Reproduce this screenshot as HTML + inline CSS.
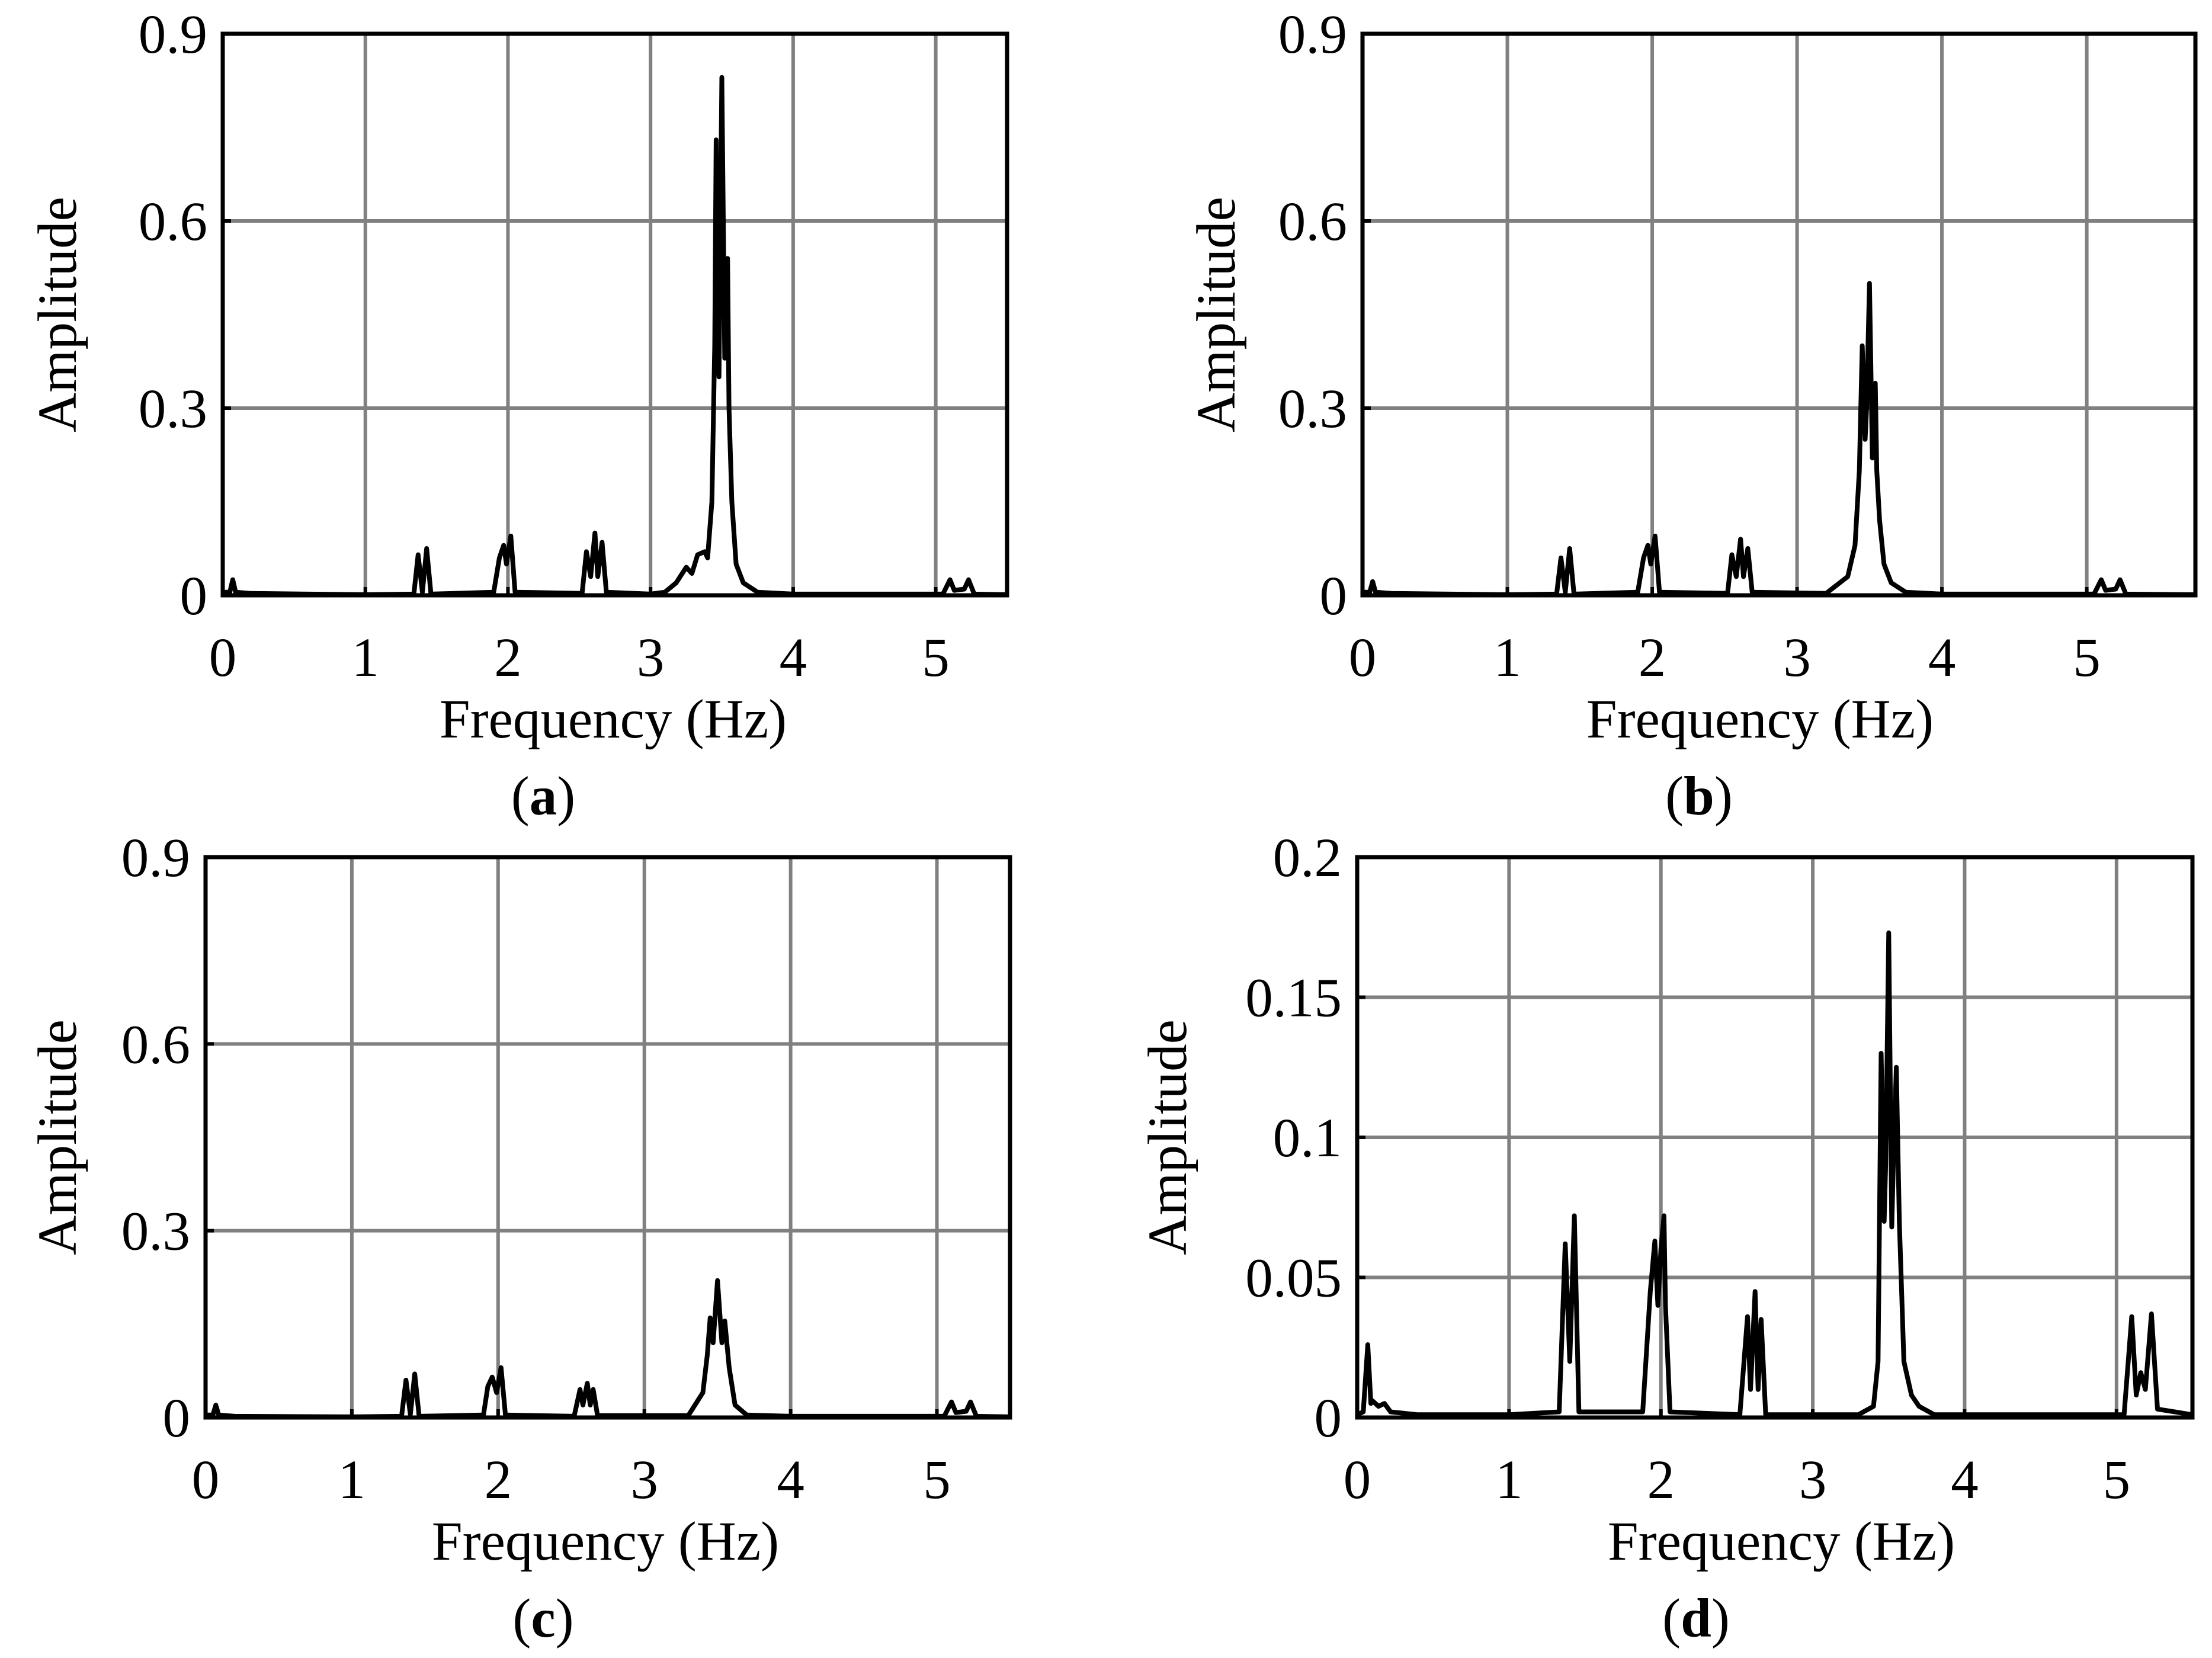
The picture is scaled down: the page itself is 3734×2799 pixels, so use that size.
<!DOCTYPE html>
<html><head><meta charset="utf-8"><style>
html,body{margin:0;padding:0;background:#fff;}
svg{display:block;font-family:"Liberation Serif",serif;}
</style></head><body>
<svg id="fig" width="3734" height="2799" viewBox="0 0 3734 2799" xmlns="http://www.w3.org/2000/svg"></svg>
<script>
// Chart (a)
const freqA=[0,0.05,0.07,0.09,0.2,1.0,1.34,1.37,1.40,1.43,1.46,1.9,1.94,1.97,1.99,2.02,2.05,2.52,2.55,2.58,2.61,2.63,2.66,2.69,3.0,3.1,3.18,3.25,3.29,3.33,3.38,3.40,3.43,3.45,3.46,3.48,3.50,3.52,3.54,3.55,3.57,3.6,3.65,3.75,4.0,5.05,5.1,5.13,5.2,5.23,5.27,5.5];
const ampA=[0.005,0.005,0.025,0.005,0.003,0.001,0.002,0.065,0.005,0.075,0.002,0.005,0.06,0.08,0.05,0.095,0.005,0.003,0.07,0.03,0.1,0.03,0.085,0.005,0.002,0.005,0.02,0.045,0.035,0.065,0.07,0.06,0.15,0.4,0.73,0.35,0.83,0.38,0.54,0.30,0.15,0.05,0.02,0.005,0.002,0.002,0.025,0.008,0.01,0.025,0.002,0.001];
// Chart (b)
const freqB=[0,0.05,0.07,0.09,0.2,1.0,1.34,1.37,1.40,1.43,1.46,1.9,1.94,1.97,1.99,2.02,2.05,2.52,2.55,2.58,2.61,2.63,2.66,2.69,3.2,3.35,3.40,3.43,3.45,3.47,3.48,3.50,3.52,3.54,3.55,3.57,3.6,3.65,3.75,4.0,5.05,5.1,5.13,5.2,5.23,5.27,5.75];
const ampB=[0.005,0.005,0.022,0.005,0.003,0.001,0.002,0.06,0.005,0.075,0.002,0.005,0.06,0.08,0.05,0.095,0.005,0.003,0.065,0.03,0.09,0.03,0.075,0.005,0.003,0.03,0.08,0.2,0.40,0.25,0.30,0.50,0.22,0.34,0.20,0.12,0.05,0.02,0.005,0.002,0.002,0.025,0.008,0.01,0.025,0.002,0.001];
// Chart (c)
const freqC=[0,0.05,0.07,0.09,0.2,1.0,1.34,1.37,1.40,1.43,1.46,1.9,1.93,1.96,1.99,2.02,2.05,2.52,2.56,2.58,2.61,2.63,2.65,2.68,3.3,3.4,3.43,3.45,3.47,3.50,3.53,3.55,3.58,3.62,3.7,4.0,5.05,5.1,5.13,5.2,5.23,5.27,5.5];
const ampC=[0.004,0.004,0.02,0.004,0.002,0.001,0.002,0.06,0.005,0.07,0.002,0.004,0.05,0.065,0.04,0.08,0.004,0.002,0.045,0.02,0.055,0.02,0.045,0.003,0.003,0.04,0.1,0.16,0.12,0.22,0.12,0.155,0.08,0.02,0.004,0.002,0.002,0.025,0.008,0.01,0.025,0.002,0.001];
// Chart (d)
const freqD=[0,0.04,0.07,0.09,0.1,0.14,0.18,0.22,0.4,1.0,1.33,1.37,1.40,1.43,1.46,1.88,1.93,1.96,1.98,2.0,2.02,2.03,2.06,2.52,2.57,2.59,2.62,2.64,2.66,2.69,3.3,3.4,3.43,3.45,3.47,3.48,3.50,3.52,3.53,3.55,3.57,3.6,3.65,3.7,3.8,4.0,5.05,5.1,5.13,5.16,5.19,5.23,5.27,5.5];
const ampD=[0.001,0.002,0.026,0.005,0.006,0.004,0.005,0.002,0.001,0.001,0.002,0.062,0.02,0.072,0.002,0.002,0.045,0.063,0.04,0.06,0.072,0.04,0.002,0.001,0.036,0.01,0.045,0.01,0.035,0.001,0.001,0.004,0.02,0.13,0.07,0.09,0.173,0.068,0.09,0.125,0.07,0.02,0.008,0.004,0.001,0.001,0.001,0.036,0.008,0.016,0.01,0.037,0.003,0.001];
const yTicksABC=["0","0.3","0.6","0.9"];
const yValsABC=[0,0.3,0.6,0.9];
const yTicksD=["0","0.05","0.1","0.15","0.2"];
const yValsD=[0,0.05,0.1,0.15,0.2];
const xTicks=["0","1","2","3","4","5"];
const xVals=[0,1,2,3,4,5];

const NS="http://www.w3.org/2000/svg";
const svg=document.getElementById('fig');
function mk(tag,attrs,parent){const e=document.createElementNS(NS,tag);for(const k in attrs)e.setAttribute(k,attrs[k]);(parent||svg).appendChild(e);return e;}

function chart(id,box,xmax,ymax,yVals,yLabels,fx,ay,labelPos){
  const g=mk('g',{});
  
  
  const X=v=>box.l+(v/xmax)*(box.r-box.l);
  const Y=v=>box.b-(v/ymax)*(box.b-box.t);
  xVals.forEach((v,i)=>{
    if(v>0){const l=mk('line',{x1:X(v),x2:X(v),y1:box.t,y2:box.b,stroke:'#808080','stroke-width':6},g);
    
    
    mk('line',{x1:X(v),x2:X(v),y1:box.b-14,y2:box.b,stroke:'#000','stroke-width':6},g);}
    const t=mk('text',{x:X(v),y:box.b+136,'font-size':93,'text-anchor':'middle'},g);
    t.textContent=xTicks[i];
    
    
  });
  yVals.forEach((v,i)=>{
    if(v>0&&v<ymax-1e-9){const l=mk('line',{x1:box.l,x2:box.r,y1:Y(v),y2:Y(v),stroke:'#808080','stroke-width':6},g);
    
    
    mk('line',{x1:box.l,x2:box.l+14,y1:Y(v),y2:Y(v),stroke:'#000','stroke-width':6},g);}
    const t=mk('text',{x:box.l-26,y:Y(v)+32,'font-size':93,'text-anchor':'end'},g);
    t.textContent=yLabels[i];
    
    
  });
  const pts=fx.map((f,i)=>X(f).toFixed(1)+','+Y(ay[i]).toFixed(1)).join(' ');
  const pl=mk('polyline',{points:pts,fill:'none',stroke:'#000','stroke-width':8,'stroke-linejoin':'round'},g);
  
  
  const r=mk('rect',{x:box.l,y:box.t,width:box.r-box.l,height:box.b-box.t,fill:'none',stroke:'#000','stroke-width':7},g);
  
  
  const xt=mk('text',{x:labelPos.fx,y:box.b+240,'font-size':93,'text-anchor':'middle'},g);
  xt.textContent='Frequency (Hz)';
  
  
  const yt=mk('text',{x:0,y:0,'font-size':93,'text-anchor':'middle',transform:'translate('+(labelPos.ax+32)+','+((box.t+box.b)/2)+') rotate(-90)'},g);
  yt.textContent='Amplitude';
  
  
  const st=mk('text',{x:labelPos.sx,y:box.b+370,'font-size':93,'text-anchor':'middle'},g);
  st.innerHTML='(<tspan font-weight="bold">'+id+'</tspan>)';
  
  
}
chart('a',{l:376,r:1700,t:57,b:1005},5.5,0.9,yValsABC,yTicksABC,freqA,ampA,{fx:1035,ax:96,sx:917});
chart('b',{l:2300,r:3706,t:57,b:1005},5.75,0.9,yValsABC,yTicksABC,freqB,ampB,{fx:2971,ax:2052,sx:2868});
chart('c',{l:347,r:1705,t:1447,b:2393},5.5,0.9,yValsABC,yTicksABC,freqC,ampC,{fx:1022,ax:96,sx:917});
chart('d',{l:2291,r:3701,t:1447,b:2393},5.5,0.2,yValsD,yTicksD,freqD,ampD,{fx:3007,ax:1970,sx:2863});
</script>
</body></html>
